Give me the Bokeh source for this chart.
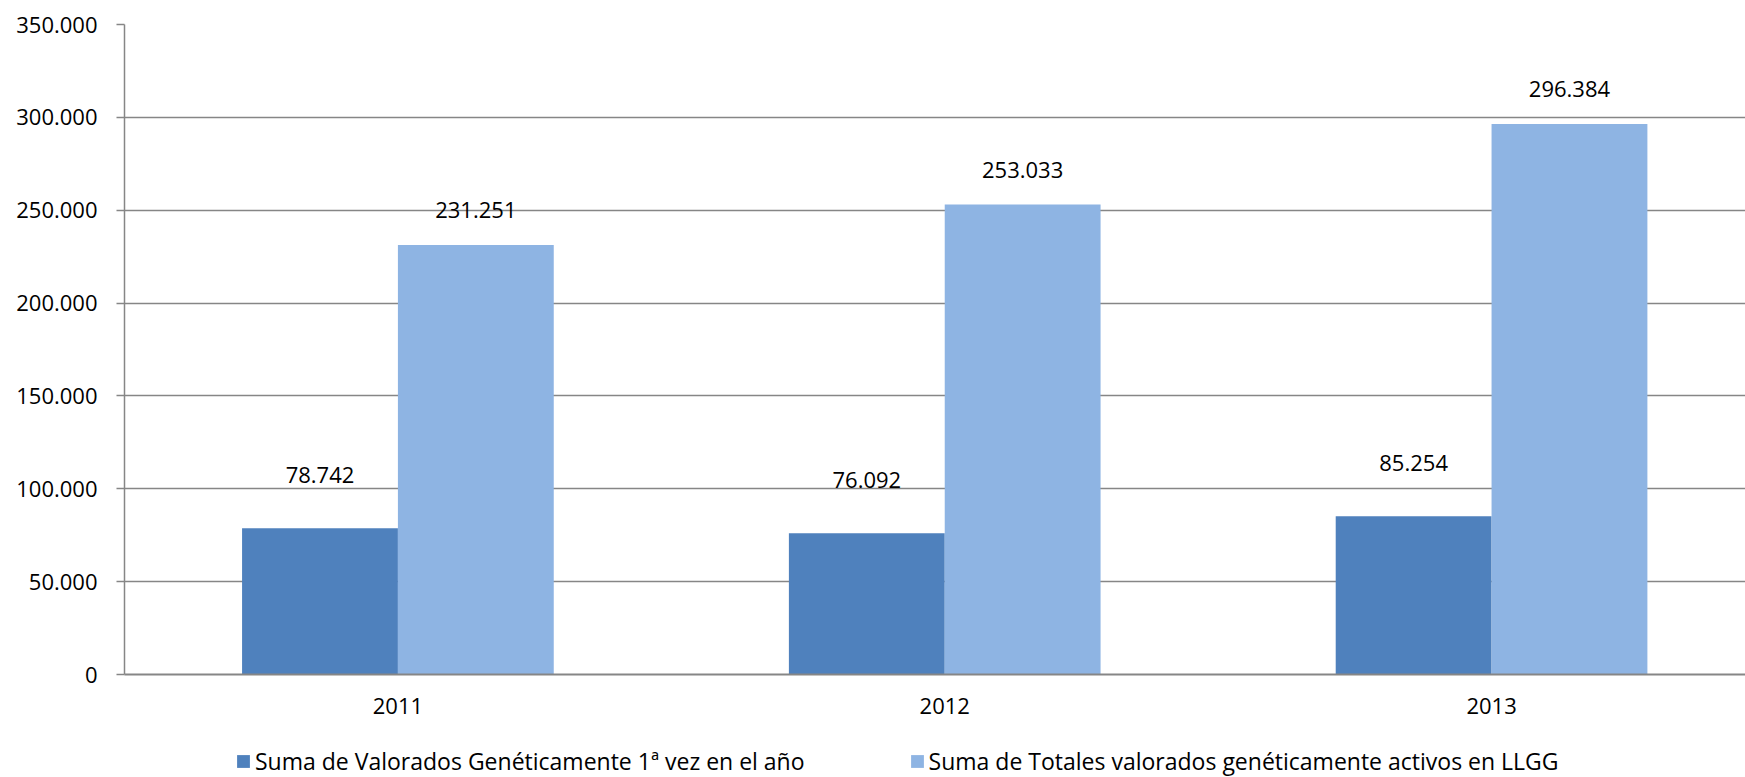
from bokeh.plotting import figure
from bokeh.models import (ColumnDataSource, Range1d, FixedTicker, LabelSet, Legend, LegendItem)
from bokeh.layouts import column
from bokeh.core.properties import value
from bokeh.transform import dodge
from bokeh.embed import file_html
from bokeh.resources import INLINE

years = ["2011", "2012", "2013"]
primera_vez = [78742, 76092, 85254]
totales_activos = [231251, 253033, 296384]
series_names = ["Suma de Valorados Genéticamente 1ª vez en el año",
                "Suma de Totales valorados genéticamente activos en LLGG"]
y_ticks = [0, 50000, 100000, 150000, 200000, 250000, 300000, 350000]

def fmt(v):
    return f"{v:,}".replace(",", ".")

FONT = "Open Sans"
FS = "22px"
DARK = "#4F81BD"
LIGHT = "#8EB4E3"
GRID = "#868686"

xc = [i + 0.5 for i in range(len(years))]
src = ColumnDataSource(dict(
    x=xc, a=primera_vez, b=totales_activos,
    la=[fmt(v) for v in primera_vez], lb=[fmt(v) for v in totales_activos],
))

p = figure(width=1745, height=740, output_backend="svg", toolbar_location=None,
           x_range=Range1d(0, 2.9644), y_range=Range1d(0, 350000),
           min_border_left=124, min_border_right=0, min_border_top=24, min_border_bottom=66)
p.outline_line_color = None
p.background_fill_color = "white"
p.border_fill_color = "white"

BW = 0.285
r1 = p.vbar(x=dodge("x", -BW / 2), top="a", width=BW, source=src, fill_color=DARK, line_color=None)
r2 = p.vbar(x=dodge("x", BW / 2), top="b", width=BW, source=src, fill_color=LIGHT, line_color=None)

p.add_layout(LabelSet(x=dodge("x", -BW / 2), y="a", text="la", source=src, y_offset=53,
                      text_align="center", text_baseline="middle",
                      text_font=value(FONT), text_font_size=value(FS), text_color="black"))
p.add_layout(LabelSet(x=dodge("x", BW / 2), y="b", text="lb", source=src, y_offset=35,
                      text_align="center", text_baseline="middle",
                      text_font=value(FONT), text_font_size=value(FS), text_color="black"))

# axes
p.xaxis.ticker = FixedTicker(ticks=xc)
p.xaxis.major_label_overrides = {x: y for x, y in zip(xc, years)}
p.xaxis.major_tick_line_color = None
p.xaxis.minor_tick_line_color = None
p.xaxis.axis_line_color = GRID
p.xaxis.axis_line_width = 2
p.xaxis.major_label_standoff = 17
p.xaxis.major_label_text_font = FONT
p.xaxis.major_label_text_font_size = FS
p.xaxis.major_label_text_color = "black"

p.yaxis.ticker = FixedTicker(ticks=y_ticks)
p.yaxis.major_label_overrides = {t: fmt(t) for t in y_ticks}
p.yaxis.major_tick_out = 8
p.yaxis.major_tick_in = 0
p.yaxis.major_tick_line_color = GRID
p.yaxis.major_tick_line_width = 1.5
p.yaxis.minor_tick_line_color = None
p.yaxis.axis_line_color = GRID
p.yaxis.axis_line_width = 1.5
p.yaxis.major_label_standoff = 19
p.yaxis.major_label_text_font = FONT
p.yaxis.major_label_text_font_size = FS
p.yaxis.major_label_text_color = "black"

p.xgrid.grid_line_color = None
p.ygrid.ticker = FixedTicker(ticks=y_ticks)
p.ygrid.grid_line_color = GRID
p.ygrid.grid_line_width = 1.5

# legend strip (separate figure so the legend is not clipped by the chart frame)
q = figure(width=1745, height=37, output_backend="svg", toolbar_location=None,
           x_axis_type=None, y_axis_type=None,
           x_range=Range1d(-100, -99), y_range=Range1d(-2e6, -1e6),
           min_border_left=124, min_border_right=0, min_border_top=0, min_border_bottom=0)
q.outline_line_color = None
q.grid.visible = False
# same series in the strip only to feed the legend swatches (they fall outside the strip's ranges)
q1 = q.vbar(x="x", top="a", width=BW, source=src, fill_color=DARK, line_color=None)
q2 = q.vbar(x="x", top="b", width=BW, source=src, fill_color=LIGHT, line_color=None)

lg = Legend(items=[LegendItem(label=series_names[0], renderers=[q1]),
                   LegendItem(label=series_names[1], renderers=[q2])],
            location=(111, 0), orientation="horizontal", padding=0, margin=0, spacing=104,
            glyph_width=16, glyph_height=16, label_standoff=4,
            label_text_font=FONT, label_text_font_size="23px", label_text_color="black",
            background_fill_alpha=0, border_line_color=None)
q.add_layout(lg)

open("out.html", "w").write(file_html(column(p, q, spacing=0), INLINE))
